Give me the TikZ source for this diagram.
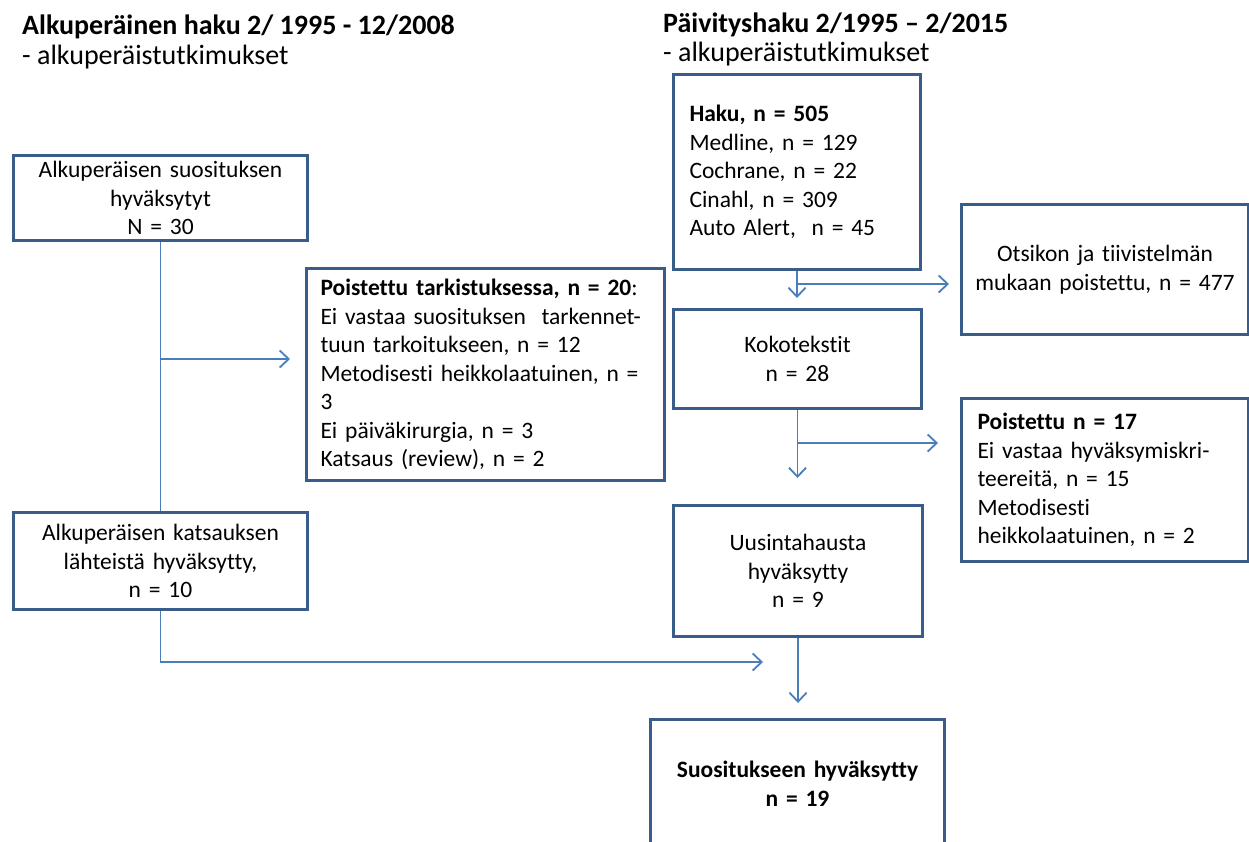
\documentclass[tikz,border=0pt]{standalone}
\usepackage{fontspec}
\setmainfont{Carlito}[Ligatures=NoCommon, RawFeature={-liga;-clig;-calt;-dlig}]
\usetikzlibrary{arrows.meta}
\definecolor{boxc}{HTML}{385D8A}
\definecolor{arrc}{HTML}{4A7EBB}
\frenchspacing
\tikzset{
  box/.style={draw=boxc, line width=3pt, inner sep=0pt, anchor=north west, fill=white,
    font=\fontsize{23.5}{28.5}\selectfont},
  cbox/.style={box, align=center},
  lbox/.style={box, align=left},
  ln/.style={draw=arrc, line width=1.8pt},
  arr/.style={ln, -{Straight Barb[length=9pt,width=17pt]}},
  ttl/.style={anchor=base west, inner sep=0pt, font=\bfseries\fontsize{28}{34}\selectfont},
  sub/.style={anchor=base west, inner sep=0pt, font=\fontsize{28}{34}\selectfont},
}
\begin{document}
\begin{tikzpicture}[x=1pt,y=-1pt]
\useasboundingbox (0,0) rectangle (1249,842);
\clip (0,0) rectangle (1249,842);
\fill[white] (0,0) rectangle (1249,842);

% titles
\node[ttl] (tl) at (22,35) {Alkuperäinen haku 2/ 1995 - 12/2008};
\node[sub] (sl) at (22,65) {- alkuperäistutkimukset};
\node[ttl] (tr) at (663,33) {Päivityshaku 2/1995 – 2/2015};
\node[sub] (sr) at (663,62) {- alkuperäistutkimukset};

% left column
\node[cbox, minimum width=294pt, minimum height=85pt, text width=284pt] (A) at (12,154)
  {Alkuperäisen suosituksen\\hyväksytyt\\N = 30};
\node[lbox, minimum width=358pt, minimum height=212pt, text width=330pt] (B) at (305,267)
  {\textbf{Poistettu tarkistuksessa, n = 20}:\\
   Ei vastaa suosituksen\ \ tarkennet-\\
   tuun tarkoitukseen, n = 12\\
   Metodisesti heikkolaatuinen, n =\\
   3\\
   Ei päiväkirurgia, n = 3\\
   Katsaus (review), n = 2};
\node[cbox, minimum width=294pt, minimum height=97pt, text width=284pt] (C) at (12,511)
  {Alkuperäisen katsauksen\\lähteistä hyväksytty,\\n = 10};

% right column
\node[lbox, minimum width=247pt, minimum height=195pt, text width=215pt] (D) at (672,73)
  {\textbf{Haku, n = 505}\\
   Medline, n = 129\\
   Cochrane, n = 22\\
   Cinahl, n = 309\\
   Auto Alert,\ \ n = 45};
\node[cbox, minimum width=287pt, minimum height=130pt, text width=277pt] (E) at (960,203)
  {Otsikon ja tiivistelmän\\mukaan poistettu, n = 477};
\node[cbox, minimum width=248pt, minimum height=99pt, text width=238pt] (F) at (672,308)
  {Kokotekstit\\n = 28};
\node[lbox, minimum width=287pt, minimum height=163pt, text width=255pt] (G) at (960,397)
  {\textbf{Poistettu n = 17}\\
   Ei vastaa hyväksymiskri-\\
   teereitä, n = 15\\
   Metodisesti\\
   heikkolaatuinen, n = 2};
\node[cbox, minimum width=249pt, minimum height=131pt, text width=239pt] (H) at (672,504)
  {Uusintahausta\\hyväksytty\\n = 9};
\node[cbox, minimum width=294pt, minimum height=128pt, text width=284pt, font=\bfseries\fontsize{23.5}{28.5}\selectfont] (I) at (649,718)
  {Suositukseen hyväksytty\\n = 19};

% connectors left
\draw[ln] (A.south) -- (C.north);
\coordinate (j1) at (A.south |- 0,359);
\draw[arr, shorten >=15pt] (j1) -- (j1 -| B.west);
\coordinate (t1) at (763,662);
\draw[arr] (C.south) |- (t1);

% connectors right
\draw[arr, shorten >=10pt] (D.south) -- (D.south |- F.north);
\coordinate (j2) at (D.south |- 0,284);
\draw[arr, shorten >=11pt] (j2) -- (j2 -| E.west);
\draw[arr, shorten >=26pt] (F.south) -- (F.south |- H.north);
\coordinate (j3) at (F.south |- 0,443);
\draw[arr, shorten >=22pt] (j3) -- (j3 -| G.west);
\draw[arr, shorten >=15pt] (H.south) -- (H.south |- I.north);
\end{tikzpicture}
\end{document}
